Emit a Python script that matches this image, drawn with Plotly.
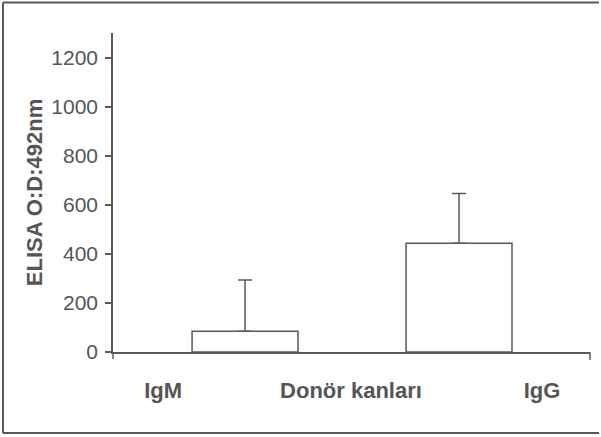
import plotly.graph_objects as go

# ---- data ----
bar_x = [0, 1]
bar_values = [85, 443]
bar_errors_up = [208, 203]
axis_labels = ["IgM", "Donör kanları", "IgG"]
y_title = "ELISA O:D:492nm"

# ---- layout constants ----
label_pos = [-0.383, 0.495, 1.388]
W, H = 601, 437
ML, MR, MT, MB = 113, 11, 33, 85
PW, PH = W - ML - MR, H - MT - MB
GRAY = "#5a5a5a"
TXT = "#555555"
FONT = "Liberation Sans, Arial, sans-serif"

def px_x(p):
    return (p - ML) / PW

def px_y(p):
    return (H - MB - p) / PH

fig = go.Figure()
fig.add_trace(go.Bar(
    x=bar_x, y=bar_values, width=0.495,
    marker=dict(color="white", line=dict(color=GRAY, width=1.5)),
    error_y=dict(type="data", symmetric=False, array=bar_errors_up,
                 arrayminus=[0, 0], color=GRAY, thickness=1.5, width=7),
    showlegend=False,
))

frame = dict(color=GRAY, width=2)
shapes = [
    # outer frame (open on the right, as in the scan)
    dict(type="line", xref="paper", yref="paper",
         x0=px_x(3), x1=px_x(599), y0=px_y(2.5), y1=px_y(2.5), line=frame),
    dict(type="line", xref="paper", yref="paper",
         x0=px_x(3), x1=px_x(599), y0=px_y(433), y1=px_y(433), line=frame),
    dict(type="line", xref="paper", yref="paper",
         x0=px_x(3), x1=px_x(3), y0=px_y(433), y1=px_y(2.5), line=frame),
    # axis end ticks
    dict(type="line", xref="paper", yref="paper",
         x0=0, x1=0, y0=0, y1=px_y(359), line=dict(color=GRAY, width=1.5)),
    dict(type="line", xref="paper", yref="paper",
         x0=1, x1=1, y0=0, y1=px_y(360), line=dict(color=GRAY, width=1.5)),
]

fig.update_layout(
    width=W, height=H,
    margin=dict(l=ML, r=MR, t=MT, b=MB, pad=0),
    paper_bgcolor="white", plot_bgcolor="white",
    font=dict(family=FONT, color=TXT),
    shapes=shapes,
    xaxis=dict(
        range=[-0.617, 1.612], showline=True, linecolor=GRAY, linewidth=1.5,
        showgrid=False, zeroline=False, ticks="",
        tickmode="array", tickvals=label_pos, ticktext=axis_labels,
        tickfont=dict(size=22, color=TXT, family=FONT, weight="bold"),
        ticklabelstandoff=18,
    ),
    yaxis=dict(
        range=[0, 1300], showline=True, linecolor=GRAY, linewidth=1.5,
        showgrid=False, zeroline=False,
        tickmode="array", tickvals=[0, 200, 400, 600, 800, 1000, 1200],
        ticks="outside", ticklen=6, tickwidth=1.5, tickcolor=GRAY,
        tickfont=dict(size=21, color=TXT),
        ticklabelstandoff=3,
        title=dict(text=y_title, standoff=3,
                   font=dict(size=22, color=TXT, weight="bold")),
    ),
)

fig.write_html(
    "out.html", config={"displayModeBar": False},
    post_script=("document.body.style.margin='0';document.body.style.padding='0';"
                 "document.body.style.overflow='hidden';"
                 "document.documentElement.style.overflow='hidden';"),
)
